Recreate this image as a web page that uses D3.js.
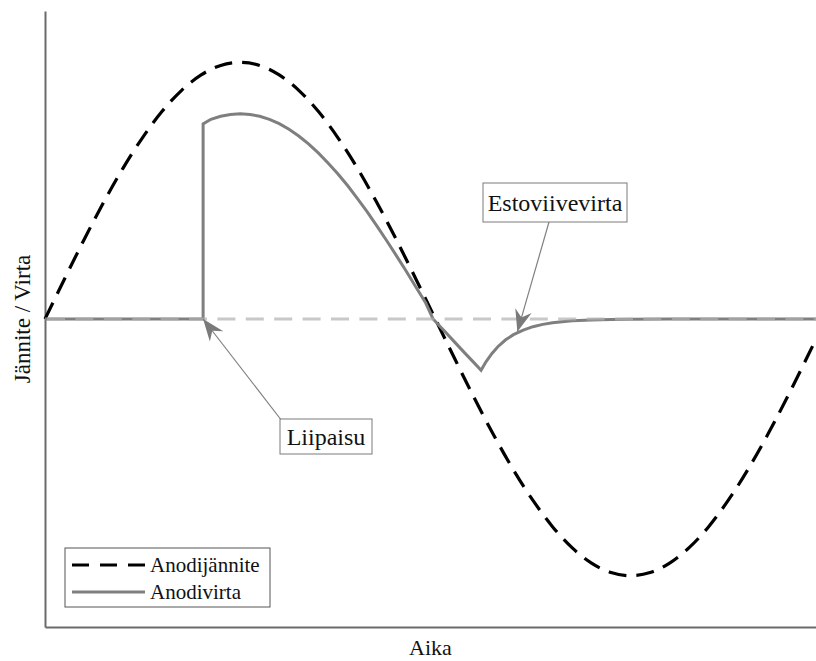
<!DOCTYPE html>
<html>
<head>
<meta charset="utf-8">
<script src="https://cdn.jsdelivr.net/npm/d3@7"></script>
<style>
  html, body { margin: 0; padding: 0; background: #fff; }
  svg { display: block; }
</style>
</head>
<body>
<svg id="chart" width="816" height="661"></svg>
<script>
// Time axis in milliseconds (one mains cycle), values normalised to peak voltage.
const voltageTime = [0, 0.5, 1, 1.5, 2, 2.5, 3, 3.5, 4, 4.5, 5, 5.5, 6, 6.5, 7, 7.5, 8, 8.5, 9, 9.5,
  10, 10.5, 11, 11.5, 12, 12.5, 13, 13.5, 14, 14.5, 15, 15.5, 16, 16.5, 17, 17.5, 18, 18.5, 19, 19.5, 19.75];
const voltageValue = [0, 0.156, 0.309, 0.454, 0.588, 0.707, 0.809, 0.891, 0.951, 0.988, 1, 0.988, 0.951, 0.891, 0.809, 0.707, 0.588, 0.454, 0.309, 0.156,
  0, -0.156, -0.309, -0.454, -0.588, -0.707, -0.809, -0.891, -0.951, -0.988, -1, -0.988, -0.951, -0.891, -0.809, -0.707, -0.588, -0.454, -0.309, -0.156, -0.078];

const currentTime = [0, 4.05, 4.05, 4.25, 4.5, 4.75, 5, 5.25, 5.5, 5.75, 6, 6.25, 6.5, 6.75, 7, 7.25, 7.5, 7.75, 8, 8.25, 8.5, 8.75, 9, 9.25, 9.5, 9.75, 9.94,
  10.25, 10.5, 10.75, 11, 11.17, 11.3, 11.45, 11.6, 11.8, 12, 12.25, 12.5, 12.75, 13, 13.5, 14, 14.5, 15, 16, 19.75];
const currentValue = [0, 0, 0.76, 0.778, 0.79, 0.797, 0.8, 0.797, 0.79, 0.778, 0.761, 0.739, 0.713, 0.682, 0.647, 0.608, 0.566, 0.52, 0.47, 0.418, 0.363, 0.306, 0.247, 0.187, 0.125, 0.063, 0,
  -0.05, -0.091, -0.132, -0.172, -0.2, -0.166, -0.134, -0.108, -0.081, -0.061, -0.043, -0.03, -0.021, -0.015, -0.007, -0.004, -0.002, -0.001, 0, 0];

const seriesNames = ["Anodijännite", "Anodivirta"];
const axisTitles = { x: "Aika", y: "Jännite / Virta" };
// Callouts: label and the point on the current curve it refers to.
const calloutLabels = ["Liipaisu", "Estoviivevirta"];
const calloutTargets = [[4.05, 0], [12.1, -0.05]];

const FONT = "'Liberation Serif', 'Times New Roman', Times, serif";

const svg = d3.select("#chart");
const margin = { left: 45, right: 0, top: 11, bottom: 34 };
const W = 816, H = 661;

const x = d3.scaleLinear().domain([0, 19.75]).range([margin.left, W - margin.right]);
const y = d3.scaleLinear().domain([-1.2, 1.2]).range([H - margin.bottom, margin.top]);

// Axes: plain lines, no ticks
const axisColor = "#6b6b6b";
svg.append("g")
  .attr("transform", `translate(0,${y(-1.2)})`)
  .call(d3.axisBottom(x).tickValues([]).tickSizeOuter(0))
  .call(g => g.select(".domain").attr("stroke", axisColor).attr("stroke-width", 2));
svg.append("g")
  .attr("transform", `translate(${x(0)},0)`)
  .call(d3.axisLeft(y).tickValues([]).tickSizeOuter(0))
  .call(g => g.select(".domain").attr("stroke", axisColor).attr("stroke-width", 2));

// Anode voltage (dashed black)
const voltagePts = voltageTime.map((t, i) => [t, voltageValue[i]]);
svg.append("path")
  .datum(voltagePts)
  .attr("fill", "none")
  .attr("stroke", "#000")
  .attr("stroke-width", 3.2)
  .attr("stroke-dasharray", "18,10")
  .attr("d", d3.line().x(d => x(d[0])).y(d => y(d[1])).curve(d3.curveNatural));

// Anode current (solid grey)
const currentPts = currentTime.map((t, i) => [t, currentValue[i]]);
svg.append("path")
  .datum(currentPts)
  .attr("fill", "none")
  .attr("stroke", "#7f7f7f")
  .attr("stroke-width", 3)
  .attr("stroke-linejoin", "miter")
  .attr("d", d3.line().x(d => x(d[0])).y(d => y(d[1])));

// Zero reference (light dashed, translucent over the current)
svg.append("line")
  .attr("x1", x(0)).attr("x2", x(19.75))
  .attr("y1", y(0)).attr("y2", y(0))
  .attr("stroke", "#b0b0b0")
  .attr("stroke-opacity", 0.7)
  .attr("stroke-width", 3)
  .attr("stroke-dasharray", "18,10.4")
  .attr("stroke-dashoffset", -2);

// Callout boxes with arrows
function arrowHead(tip, from, len, half, notch) {
  const dx = tip[0] - from[0], dy = tip[1] - from[1];
  const d = Math.hypot(dx, dy), ux = dx / d, uy = dy / d;
  const px = -uy, py = ux;
  const bx = tip[0] - ux * len, by = tip[1] - uy * len;
  const nx = tip[0] - ux * (len - notch), ny = tip[1] - uy * (len - notch);
  return [tip, [bx + px * half, by + py * half], [nx, ny], [bx - px * half, by - py * half]];
}

const boxes = [
  { x: 280, y: 419, w: 92, h: 35, tail: [282, 421], base: 445 },
  { x: 483, y: 183, w: 144, h: 39, tail: [549, 222], base: 211 }
];

calloutLabels.forEach((label, i) => {
  const b = boxes[i];
  const tip = [x(calloutTargets[i][0]), y(calloutTargets[i][1])];
  svg.append("line")
    .attr("x1", b.tail[0]).attr("y1", b.tail[1])
    .attr("x2", tip[0]).attr("y2", tip[1])
    .attr("stroke", "#808080").attr("stroke-width", 1.2);
  svg.append("path")
    .attr("d", d3.line()(arrowHead(tip, b.tail, 22, 8.5, 7)) + "Z")
    .attr("fill", "#7a7a7a");
  svg.append("rect")
    .attr("x", b.x).attr("y", b.y).attr("width", b.w).attr("height", b.h)
    .attr("fill", "#fff").attr("stroke", "#7a7a7a").attr("stroke-width", 1);
  svg.append("text")
    .attr("x", b.x + b.w / 2).attr("y", b.base)
    .attr("text-anchor", "middle")
    .attr("font-family", FONT)
    .attr("font-size", 24)
    .attr("fill", "#111")
    .text(label);
});

// Legend
const legend = svg.append("g");
legend.append("rect")
  .attr("x", 65).attr("y", 548).attr("width", 205).attr("height", 59)
  .attr("fill", "#fff").attr("stroke", "#555").attr("stroke-width", 1);
const legendStyles = [
  { stroke: "#000", dash: "17,11" },
  { stroke: "#7f7f7f", dash: null }
];
seriesNames.forEach((name, i) => {
  const ly = 565 + i * 27;
  legend.append("line")
    .attr("x1", 72).attr("x2", 145).attr("y1", ly).attr("y2", ly)
    .attr("stroke", legendStyles[i].stroke)
    .attr("stroke-width", 3.2)
    .attr("stroke-dasharray", legendStyles[i].dash);
  legend.append("text")
    .attr("x", 150).attr("y", ly + 7)
    .attr("font-family", FONT)
    .attr("font-size", 21)
    .attr("fill", "#111")
    .text(name);
});

// Axis titles
svg.append("text")
  .attr("x", (x(0) + W) / 2).attr("y", 655)
  .attr("text-anchor", "middle")
  .attr("font-family", FONT).attr("font-size", 22).attr("fill", "#111")
  .text(axisTitles.x);
svg.append("text")
  .attr("transform", `translate(30,${y(0)}) rotate(-90)`)
  .attr("text-anchor", "middle")
  .attr("font-family", FONT).attr("font-size", 23).attr("fill", "#111")
  .text(axisTitles.y);
</script>
</body>
</html>
